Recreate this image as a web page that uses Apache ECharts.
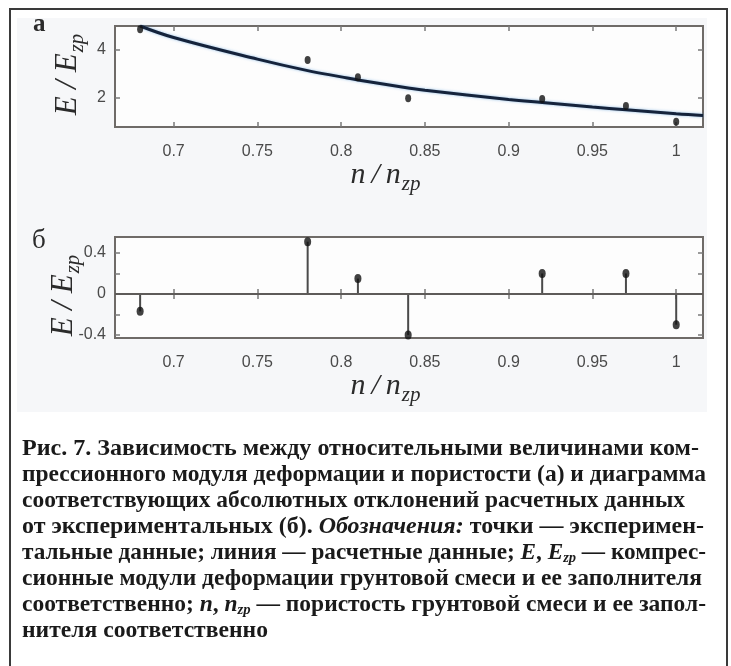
<!DOCTYPE html>
<html>
<head>
<meta charset="utf-8">
<script src="https://cdn.jsdelivr.net/npm/echarts@6/dist/echarts.min.js"></script>
<style>
  html, body { margin: 0; padding: 0; background: #ffffff; }
  #chart { width: 731px; height: 666px; }
</style>
</head>
<body>
<div id="chart"></div>
<script>
// Relative porosity n/n_zp of the experiments
const nRel = [0.68, 0.78, 0.81, 0.84, 0.92, 0.97, 1.00];
// Measured relative modulus E/E_zp
const eExp = [4.86, 3.58, 2.86, 1.99, 1.96, 1.67, 1.01];
// Calculated curve, sampled along n/n_zp
const fitN = [0.68, 0.70, 0.75, 0.78, 0.80, 0.81, 0.84, 0.85, 0.90, 0.92, 0.95, 0.97, 1.00, 1.016];
const fitE = [5.00, 4.52, 3.62, 3.14, 2.88, 2.75, 2.42, 2.32, 1.94, 1.81, 1.62, 1.51, 1.34, 1.27];
// Absolute deviations of calculated from measured values
const devE = [-0.17, 0.51, 0.15, -0.40, 0.20, 0.20, -0.30];

// Tick positions
const xTicks = [0.7, 0.75, 0.8, 0.85, 0.9, 0.95, 1];
const yTicksA = [2, 4];
const yTicksB = [-0.4, -0.2, 0, 0.2, 0.4];
const yLabelsB = [-0.4, 0, 0.4];

// Figure caption, split into lines; b = bold, bi = bold italic, sub = subscript
const captionLines = [
  [['Рис. 7. Зависимость между относительными величинами ком-', 'b']],
  [['прессионного модуля деформации и пористости (а) и диаграмма', 'b']],
  [['соответствующих абсолютных отклонений расчетных данных', 'b']],
  [['от экспериментальных (б). ', 'b'], ['Обозначения:', 'bi'], [' точки — эксперимен-', 'b']],
  [['тальные данные; линия — расчетные данные; ', 'b'], ['E', 'bi'], [', ', 'b'], ['E', 'bi'], ['zp', 'sub'], [' — компрес-', 'b']],
  [['сионные модули деформации грунтовой смеси и ее заполнителя', 'b']],
  [['соответственно; ', 'b'], ['n', 'bi'], [', ', 'b'], ['n', 'bi'], ['zp', 'sub'], [' — пористость грунтовой смеси и ее запол-', 'b']],
  [['нителя соответственно', 'b']]
];

const SERIF = 'Liberation Serif';
const SANS = 'Liberation Sans';

const mctx = document.createElement('canvas').getContext('2d');
function fontString(f) {
  return (f.fontStyle || 'normal') + ' ' + (f.fontWeight || 'normal') + ' ' + f.fontSize + 'px ' + f.fontFamily;
}
function textWidth(t, f) { mctx.font = fontString(f); return mctx.measureText(t).width; }

const X_MIN = 0.665, X_MAX = 1.016;
const GRID_L = 115, GRID_W = 588, GRID_H = 101;
const TOP_A = 26, TOP_B = 237;

const BOX = '#6f6b68';
const TICK = '#7a7a7a';
const LABEL = '#4a4a4a';

function xAxisPair(gridIndex) {
  const common = {
    type: 'value', gridIndex, min: X_MIN, max: X_MAX,
    axisLine: { show: false }, splitLine: { show: false },
    axisTick: { show: true, inside: true, length: 5, customValues: xTicks,
                lineStyle: { color: TICK, width: 1.5 } }
  };
  return [
    Object.assign({}, common, {
      position: 'bottom',
      axisLabel: { show: true, customValues: xTicks, margin: 17,
                   fontFamily: SANS, fontSize: 16, color: LABEL,
                   formatter: v => String(+(+v).toFixed(2)) }
    }),
    Object.assign({}, common, { position: 'top', axisLabel: { show: false } })
  ];
}

function yAxisPair(gridIndex, min, max, ticks, labels) {
  const common = {
    type: 'value', gridIndex, min, max,
    axisLine: { show: false }, splitLine: { show: false },
    axisTick: { show: true, inside: true, length: 5, customValues: ticks,
                lineStyle: { color: TICK, width: 1.5 } }
  };
  return [
    Object.assign({}, common, {
      position: 'left',
      axisLabel: { show: true, customValues: labels, margin: 9,
                   fontFamily: SANS, fontSize: 16, color: LABEL,
                   formatter: v => String(+(+v).toFixed(1)) }
    }),
    Object.assign({}, common, { position: 'right', axisLabel: { show: false } })
  ];
}

function textEl(x, y, text, f, fill) {
  return {
    type: 'text', x, y,
    style: Object.assign({ text, fill, align: 'left', verticalAlign: 'middle' }, f)
  };
}

// Axis title "main" + subscript, optionally rotated to read bottom-to-top
function axisTitle(cx, cy, mainText, subText, size, subSize, rotated) {
  const fm = { fontFamily: SERIF, fontStyle: 'italic', fontSize: size };
  const fs = { fontFamily: SERIF, fontStyle: 'italic', fontSize: subSize };
  const wMain = textWidth(mainText, fm);
  const wSub = textWidth(subText, fs);
  const start = -(wMain + wSub) / 2;
  return {
    type: 'group', x: cx, y: cy, rotation: rotated ? Math.PI / 2 : 0,
    children: [
      textEl(start, 0, mainText, fm, '#2b2b2b'),
      textEl(start + wMain + 1, size * 0.3, subText, fs, '#2b2b2b')
    ]
  };
}

// Caption lines, each stretched to its own line width
function captionGraphics() {
  const fonts = {
    b: { fontFamily: SERIF, fontWeight: 'bold', fontSize: 24 },
    bi: { fontFamily: SERIF, fontWeight: 'bold', fontStyle: 'italic', fontSize: 24 },
    sub: { fontFamily: SERIF, fontWeight: 'bold', fontStyle: 'italic', fontSize: 15 }
  };
  const left = 22;
  const rightEdges = [699, 706, 685, 704, 706, 702, 706, null];
  const lineStep = 25.9;
  const firstMiddle = 449;
  const natural = captionLines.map(line =>
    line.reduce((s, seg) => s + textWidth(seg[0], fonts[seg[1]]), 0));
  const scales = natural.map((w, i) => rightEdges[i] ? (rightEdges[i] - left) / w : null);
  const known = scales.filter(s => s);
  const avg = known.reduce((a, b) => a + b, 0) / known.length;
  return captionLines.map((line, i) => {
    let x = 0;
    const children = line.map(seg => {
      const el = textEl(x, seg[1] === 'sub' ? 6 : 0, seg[0], fonts[seg[1]], '#1a1a1a');
      x += textWidth(seg[0], fonts[seg[1]]);
      return el;
    });
    return { type: 'group', x: left, y: firstMiddle + i * lineStep,
             scaleX: scales[i] || avg, children };
  });
}

const chart = echarts.init(document.getElementById('chart'), null, { renderer: 'canvas' });

const option = {
  backgroundColor: '#ffffff',
  animation: false,
  grid: [
    { left: GRID_L, top: TOP_A, width: GRID_W, height: GRID_H, show: true,
      borderColor: BOX, borderWidth: 2, backgroundColor: '#fdfdfd', containLabel: false },
    { left: GRID_L, top: TOP_B, width: GRID_W, height: GRID_H, show: true,
      borderColor: BOX, borderWidth: 2, backgroundColor: '#fdfdfd', containLabel: false }
  ],
  xAxis: [].concat(xAxisPair(0), xAxisPair(1)),
  yAxis: [].concat(
    yAxisPair(0, 0.79, 5.0, yTicksA, yTicksA),
    yAxisPair(1, -0.43, 0.556, yTicksB, yLabelsB)
  ),
  series: [
    {
      name: 'calc', type: 'line', xAxisIndex: 0, yAxisIndex: 0,
      data: fitN.map((n, i) => [n, fitE[i]]),
      smooth: 0.4, showSymbol: false, symbol: 'none', clip: true,
      lineStyle: { color: '#15233b', width: 3,
                   shadowColor: 'rgba(80,150,215,0.6)', shadowBlur: 3 },
      z: 3
    },
    {
      name: 'exp', type: 'scatter', xAxisIndex: 0, yAxisIndex: 0,
      data: nRel.map((n, i) => [n, eExp[i]]),
      symbol: 'circle', symbolSize: [6, 8],
      itemStyle: { color: '#111111' }, z: 4
    },
    {
      name: 'stems', type: 'custom', xAxisIndex: 2, yAxisIndex: 2,
      data: nRel.map((n, i) => [n, devE[i]]),
      renderItem: function (params, api) {
        const x = api.value(0), y = api.value(1);
        const p0 = api.coord([x, 0]);
        const p1 = api.coord([x, y]);
        return {
          type: 'line',
          shape: { x1: p0[0], y1: p0[1], x2: p1[0], y2: p1[1] },
          style: { stroke: '#4a4a4a', lineWidth: 2 }
        };
      },
      z: 3
    },
    {
      name: 'devPoints', type: 'scatter', xAxisIndex: 2, yAxisIndex: 2,
      data: nRel.map((n, i) => [n, devE[i]]),
      symbol: 'circle', symbolSize: [7, 9],
      itemStyle: { color: '#111111' }, z: 4,
      markLine: {
        silent: true, symbol: 'none', label: { show: false },
        lineStyle: { color: '#5e5b59', width: 2, type: 'solid' },
        data: [{ yAxis: 0 }]
      }
    }
  ],
  graphic: [].concat(
    [
      { type: 'rect', z: -10, silent: true,
        shape: { x: 17, y: 18, width: 690, height: 394 },
        style: { fill: '#f6f7f9' } },
      { type: 'polyline', z: 10, silent: true,
        shape: { points: [[10, 670], [10, 9], [727, 9], [727, 670]] },
        style: { stroke: '#3a3a3a', lineWidth: 2, fill: null } },
      textEl(33, 25, 'а', { fontFamily: SERIF, fontWeight: 'bold', fontSize: 25 }, '#2b2b2b'),
      textEl(32, 241, 'б', { fontFamily: SERIF, fontSize: 27 }, '#2b2b2b'),
      axisTitle(385, 175, 'n\u2009/\u2009n', 'zp', 30, 21, false),
      axisTitle(385, 386, 'n\u2009/\u2009n', 'zp', 30, 21, false),
      axisTitle(68, 75, 'E / E', 'zp', 31, 21, true),
      axisTitle(64, 296, 'E / E', 'zp', 31, 21, true)
    ],
    captionGraphics()
  )
};

chart.setOption(option);
</script>
</body>
</html>
